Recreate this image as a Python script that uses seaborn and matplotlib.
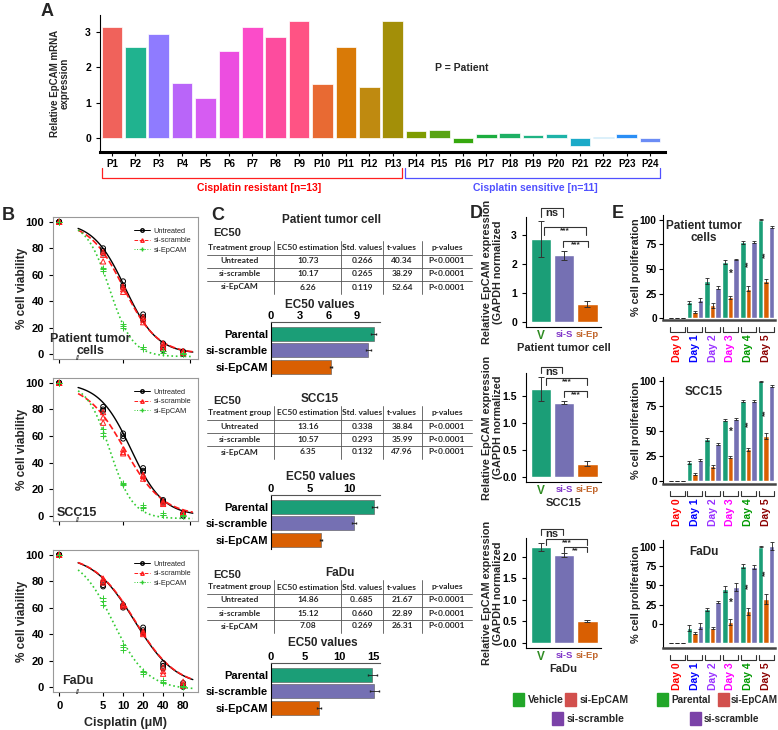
import numpy as np
import pandas as pd
import matplotlib
matplotlib.use('Agg')
import matplotlib.pyplot as plt
import seaborn as sns
from matplotlib.lines import Line2D
from matplotlib.patches import Rectangle
from matplotlib.ticker import NullLocator

sns.set_style('ticks')
plt.rcParams['font.family'] = ['Liberation Sans', 'DejaVu Sans']
plt.rcParams['font.weight'] = 'bold'
plt.rcParams['axes.labelweight'] = 'bold'
plt.rcParams['axes.linewidth'] = 0.8
plt.rcParams['axes.edgecolor'] = 'black'
plt.rcParams['xtick.color'] = 'black'
plt.rcParams['ytick.color'] = 'black'
plt.rcParams['xtick.major.size'] = 3
plt.rcParams['ytick.major.size'] = 3
plt.rcParams['xtick.major.width'] = 0.8
plt.rcParams['ytick.major.width'] = 0.8

# ---------------- data ----------------
# A - relative EpCAM mRNA per patient
patients = ['P1', 'P2', 'P3', 'P4', 'P5', 'P6', 'P7', 'P8', 'P9', 'P10', 'P11', 'P12',
            'P13', 'P14', 'P15', 'P16', 'P17', 'P18', 'P19', 'P20', 'P21', 'P22', 'P23', 'P24']
epcam_mrna = [3.15, 2.58, 2.95, 1.55, 1.13, 2.47, 3.13, 2.85, 3.32, 1.52, 2.58, 1.45,
              3.30, 0.20, 0.23, -0.15, 0.10, 0.13, 0.08, 0.12, -0.22, 0.03, 0.10, -0.12]
patient_colors = ['#F0625B', '#20B38F', '#8F7BFF', '#B965F9', '#D65CF2', '#EC4EE0',
                  '#FB4CC9', '#FD4C9E', '#FF5384', '#E86A33', '#D97A07', '#BF8A10',
                  '#A38F08', '#7E9C00', '#58A412', '#36A80E', '#1CAD3F', '#1EB064',
                  '#1FB383', '#1EB3A8', '#1BAAC8', '#1BA0E0', '#2A8EF5', '#6B8CF5']

# B - % cell viability, three replicates per cisplatin dose (uM)
doses = [0, 5, 10, 20, 40, 80]
via_groups = ['Untreated', 'si-scramble', 'si-EpCAM']
pt_untreated = [[100, 100, 100], [80, 78, 76], [55, 52, 50], [30, 28, 26], [8, 5, 3], [2, 1, 0]]
pt_scramble = [[100, 100, 100], [77, 75, 70], [51, 49, 47], [28, 26, 24], [8, 6, 5], [2, 1, 2]]
pt_siepcam = [[100, 100, 100], [65, 64, 63], [23, 21, 20], [5, 5, 4], [2, 1, 2], [0, 1, 0]]
scc_untreated = [[100, 100, 100], [82, 80, 79], [62, 60, 58], [36, 34, 33], [12, 11, 10], [2, 1, 0]]
scc_scramble = [[100, 100, 100], [78, 74, 70], [50, 48, 47], [31, 30, 28], [11, 10, 9], [3, 2, 2]]
scc_siepcam = [[100, 100, 100], [65, 62, 60], [25, 24, 23], [8, 7, 6], [2, 1, 1], [0, 1, 0]]
fadu_untreated = [[100, 100, 100], [79, 77, 76], [62, 61, 60], [45, 43, 41], [18, 16, 14], [3, 1, 0]]
fadu_scramble = [[100, 100, 100], [82, 80, 79], [63, 62, 61], [42, 41, 40], [15, 12, 10], [4, 2, 1]]
fadu_siepcam = [[100, 100, 100], [67, 65, 62], [32, 30, 28], [12, 11, 10], [5, 4, 3], [1, 0, 1]]
# hill slopes and lower asymptotes of the fitted curves
pt_hill = [1.8, 1.7, 2.5]
scc_hill = [1.8, 1.5, 2.5]
fadu_hill = [1.4, 1.4, 1.7]
curve_floor = [0, 0, -2]

# C - EC50 tables
c_groups = ['Untreated', 'si-scramble', 'si-EpCAM']
c_bar_labels = ['Parental', 'si-scramble', 'si-EpCAM']
pt_ec50 = [10.73, 10.17, 6.26]
pt_std = ['0.266', '0.265', '0.119']
pt_t = ['40.34', '38.29', '52.64']
scc_ec50 = [13.16, 10.57, 6.35]
scc_std = ['0.338', '0.293', '0.132']
scc_t = ['38.84', '35.99', '47.96']
fadu_ec50 = [14.86, 15.12, 7.08]
fadu_std = ['0..685', '0.660', '0.269']
fadu_t = ['21.67', '22.89', '26.31']
p_vals = ['P<0.0001', 'P<0.0001', 'P<0.0001']

# D - relative EpCAM expression (GAPDH normalized)
d_labels = ['V', 'si-S', 'si-Ep']
pt_expr = [2.85, 2.30, 0.63]
pt_expr_err = [0.62, 0.15, 0.10]
scc_expr = [1.63, 1.38, 0.25]
scc_expr_err = [0.22, 0.03, 0.05]
fadu_expr = [2.23, 2.04, 0.51]
fadu_expr_err = [0.09, 0.05, 0.02]

# E - % cell proliferation per day
days = ['Day 0', 'Day 1', 'Day 2', 'Day 3', 'Day 4', 'Day 5']
e_groups = ['Parental', 'si-EpCAM', 'si-scramble']
pt_par = [0, 16, 38, 57, 77, 100]
pt_par_err = [0, 1.5, 3, 2, 1.5, 0.5]
pt_ep = [0, 6, 13, 21, 30, 38]
pt_ep_err = [0, 0.7, 2.5, 1.2, 2.5, 2]
pt_scr = [0, 18, 31, 60, 77, 93]
pt_scr_err = [0, 2, 1.2, 0.6, 1, 1.2]
scc_par = [0, 19, 42, 61, 80, 100]
scc_par_err = [0, 1.5, 1.5, 1, 1, 0.5]
scc_ep = [0, 7, 15, 24, 32, 45]
scc_ep_err = [0, 1, 1.5, 1, 1.5, 3]
scc_scr = [0, 21, 37, 62, 80, 95]
scc_scr_err = [0, 1, 1, 1, 1, 1]
fadu_par = [0, 16, 35, 56, 80, 100]
fadu_par_err = [0, 3, 2, 3, 2, 0.5]
fadu_ep = [0, 11, 16, 22, 33, 46]
fadu_ep_err = [0, 1, 1, 3, 4, 5]
fadu_scr = [0, 18, 43, 58, 79, 101]
fadu_scr_err = [0, 3, 1, 4, 2, 4]

DARK2 = ['#1B9E77', '#7570B3', '#D95F02']   # parental / scramble / EpCAM
E_COLORS = ['#1B9E77', '#D95F02', '#7570B3']
DAY_COLORS = ['#FF0000', '#0000FF', '#9933FF', '#FF00FF', '#009900', '#8B0000']

# ---------------- figure helpers ----------------
W, H = 778, 730
fig = plt.figure(figsize=(W / 100, H / 100), dpi=100)


def px_axes(x0, y0, x1, y1):
    return fig.add_axes([x0 / W, 1 - y1 / H, (x1 - x0) / W, (y1 - y0) / H])


def ftext(x, y, s, **kw):
    kw.setdefault('ha', 'center')
    kw.setdefault('va', 'center')
    fig.text(x / W, 1 - y / H, s, **kw)


def fline(xs, ys, **kw):
    fig.add_artist(Line2D([x / W for x in xs], [1 - y / H for y in ys],
                          transform=fig.transFigure, **kw))


def frect(x, y, w, h, color):
    fig.add_artist(Rectangle((x / W, 1 - (y + h) / H), w / W, h / H,
                             transform=fig.transFigure, color=color))


# ---------------- A ----------------
axA = px_axes(100, 15, 665, 152)
sns.barplot(x=patients, y=epcam_mrna, hue=patients, palette=patient_colors, legend=False,
            width=0.88, saturation=1, edgecolor='white', linewidth=0.5, ax=axA)
axA.set_xlim(-0.51, 23.64)
axA.set_ylim(-0.4, 3.48)
axA.set_yticks([0, 1, 2, 3])
sns.despine(ax=axA)
axA.spines['bottom'].set_linewidth(2.2)
axA.tick_params(axis='x', labelsize=7, pad=2)
axA.tick_params(axis='y', labelsize=7.5)
axA.set_xlabel('')
axA.set_ylabel('Relative EpCAM mRNA\nexpression', fontsize=7, linespacing=1.0)
axA.yaxis.set_label_coords(-30 / 565, 0.5)
ftext(462, 68, 'P = Patient', fontsize=7.5)
fline([102, 102, 402, 402], [168, 178, 178, 168], color='#FF2020', lw=0.9)
fline([405, 405, 660, 660], [168, 178, 178, 168], color='#5050FF', lw=0.9)
ftext(259, 188, 'Cisplatin resistant [n=13]', fontsize=7.5, color='#FF0000')
ftext(535, 188, 'Cisplatin sensitive [n=11]', fontsize=7.5, color='#5050FF')
ftext(47, 11, 'A', fontsize=13)

# ---------------- B ----------------
ZERO_POS = 1.09


def viability_panel(y0, y1, reps, ec50s, hills, bottom_axis):
    ax = px_axes(53, y0, 198, y1)
    ax.set_xscale('log', base=2)
    styles = [dict(color='black', ls='-', marker='o', fc='none', s=12),
              dict(color='#FF1A1A', ls='--', marker='^', fc='none', s=14),
              dict(color='#33CC33', ls=':', marker='+', fc='#33CC33', s=24)]
    for g, (rep, ec, h, st, fl) in enumerate(zip(reps, ec50s, hills, styles, curve_floor)):
        xs = np.geomspace(2.1, 112, 120)
        ys = fl + (100 - fl) / (1 + (xs / ec) ** h)
        sns.lineplot(x=xs, y=ys, color=st['color'], linestyle=st['ls'],
                     lw=1.0 if g == 0 else 1.2, ax=ax)
        px = [ZERO_POS if d == 0 else d for d, r in zip(doses, rep) for _ in r]
        py = [v for r in rep for v in r]
        sns.scatterplot(x=px, y=py, marker=st['marker'], s=st['s'], facecolor=st['fc'],
                        edgecolor=st['color'], linewidth=0.7, ax=ax, zorder=3)
    ax.set_xlim(0.88, 134)
    ax.set_ylim(-3.8, 103.6)
    ax.set_yticks([0, 20, 40, 60, 80, 100])
    ax.xaxis.set_minor_locator(NullLocator())
    if bottom_axis:
        ax.set_xticks([ZERO_POS, 5, 10, 20, 40, 80])
        ax.set_xticklabels(['0', '5', '10', '20', '40', '80'])
        ax.set_xlabel('Cisplatin (\u03bcM)', fontsize=9, labelpad=4)
    else:
        ax.set_xticks([ZERO_POS, 10, 100])
        ax.set_xticklabels([])
    ax.tick_params(labelsize=8)
    for sp in ax.spines.values():
        sp.set_color('#999999')
    ax.text(2.1, 0, '//', transform=ax.get_xaxis_transform(), ha='center', va='center',
            fontsize=5, color='#444444')
    ax.set_ylabel('% cell viability', fontsize=8.5)
    ax.yaxis.set_label_coords(-25 / 145, 0.5)
    handles = [Line2D([0], [0], color='black', lw=0.7, marker='o', mfc='none', ms=2.5),
               Line2D([0], [0], color='#FF1A1A', lw=0.7, ls='--', marker='^', mfc='none', ms=2.5),
               Line2D([0], [0], color='#33CC33', lw=0.7, ls=':', marker='+', ms=3)]
    leg = ax.legend(handles, via_groups, loc='upper right', frameon=False, fontsize=5.3,
                    handlelength=2.2, handletextpad=0.5, labelspacing=0.3,
                    bbox_to_anchor=(1.0, 0.97))
    for t in leg.get_texts():
        t.set_fontweight('normal')
    return ax


viability_panel(217, 359, [pt_untreated, pt_scramble, pt_siepcam], pt_ec50, pt_hill, False)
viability_panel(378, 521, [scc_untreated, scc_scramble, scc_siepcam], scc_ec50, scc_hill, False)
viability_panel(550, 692, [fadu_untreated, fadu_scramble, fadu_siepcam], fadu_ec50, fadu_hill, True)
ftext(90, 345, 'Patient tumor\ncells', fontsize=9, linespacing=1.0)
ftext(57, 513, 'SCC15', fontsize=9, ha='left')
ftext(62, 681, 'FaDu', fontsize=9, ha='left')
ftext(8, 216, 'B', fontsize=13)

# ---------------- C ----------------
col_x = [240, 308, 362, 402, 447]
col_sep = [274, 341, 383, 422]
headers = ['Treatment group', 'EC50 estimation', 'Std. values', 't-values', 'p-values']
TFONT = ['Lato', 'Liberation Sans']


def ec50_table(hy, est, std, tv):
    for x, s in zip(col_x, headers):
        ftext(x, hy, s, fontsize=6, family=TFONT)
    for i in range(3):
        ry = hy + 13 * (i + 1)
        row = [c_groups[i], '%.2f' % est[i], std[i], tv[i], p_vals[i]]
        for x, s in zip(col_x, row):
            ftext(x, ry, s, fontsize=6, family=TFONT)
    for k in range(3):
        yy = hy + 6.5 + 13 * k
        fline([207, 472], [yy, yy], color='#555555', lw=0.6)
    for x in col_sep:
        fline([x, x], [hy - 7, hy + 46], color='#555555', lw=0.6)


def ec50_bars(y0, y1, est, std, xmax, ticks):
    ax = px_axes(271, y0, 380, y1)
    sns.barplot(x=est, y=c_bar_labels, hue=c_bar_labels, palette=DARK2, orient='h',
                width=0.84, saturation=1, legend=False, edgecolor='#555555', linewidth=0.4,
                ax=ax)
    errs = [float(s.replace('..', '.')) for s in std]
    ax.errorbar(est, [0, 1, 2], xerr=errs, fmt='none', ecolor='#222222', elinewidth=0.6,
                capsize=1)
    ax.set_xlim(0, xmax)
    ax.set_ylim(2.55, -0.7)
    ax.set_xticks(ticks)
    ax.xaxis.tick_top()
    ax.tick_params(axis='x', length=0, pad=1, labelsize=8)
    ax.tick_params(axis='y', length=0, pad=2, labelsize=8)
    ax.spines['right'].set_visible(False)
    ax.spines['bottom'].set_visible(False)
    ax.spines['top'].set_color('#555555')
    ax.set_xlabel('')
    ax.set_ylabel('')


ftext(218, 215, 'C', fontsize=13)
ftext(332, 220, 'Patient tumor cell', fontsize=8.5)
ftext(213, 233, 'EC50', fontsize=8, ha='left')
ec50_table(248, pt_ec50, pt_std, pt_t)
ftext(320, 305, 'EC50 values', fontsize=8.5)
ec50_bars(322, 376, pt_ec50, pt_std, 11.4, [0, 3, 6, 9])

ftext(320, 399, 'SCC15', fontsize=8.5)
ftext(213, 401, 'EC50', fontsize=8, ha='left')
ec50_table(413, scc_ec50, scc_std, scc_t)
ftext(321, 477, 'EC50 values', fontsize=8.5)
ec50_bars(495, 549, scc_ec50, scc_std, 13.9, [0, 5, 10])

ftext(340, 573, 'FaDu', fontsize=8.5)
ftext(213, 575, 'EC50', fontsize=8, ha='left')
ec50_table(587, fadu_ec50, fadu_std, fadu_t)
ftext(323, 643, 'EC50 values', fontsize=8.5)
ec50_bars(663, 717, fadu_ec50, fadu_std, 16, [0, 5, 10, 15])

# ---------------- D ----------------
D_TICK_COLORS = ['#2E8B22', '#8034C8', '#C1652B']


def expr_panel(y0, y1, vals, errs, ylim, yticks, ytl, xlabel, brackets):
    ax = px_axes(526, y0, 601, y1)
    sns.barplot(x=d_labels, y=vals, hue=d_labels, palette=DARK2, width=0.9, saturation=1,
                legend=False, ax=ax)
    ax.errorbar([0, 1, 2], vals, yerr=errs, fmt='none', ecolor='#333333', elinewidth=0.7,
                capsize=2, capthick=0.7)
    ax.set_xlim(-0.65, 2.6)
    ax.set_ylim(*ylim)
    ax.set_yticks(yticks)
    ax.set_yticklabels(ytl)
    sns.despine(ax=ax)
    ax.tick_params(axis='x', length=0, labelsize=6.8, pad=2)
    ax.tick_params(axis='y', labelsize=7.5)
    for lab, c in zip(ax.get_xticklabels(), D_TICK_COLORS):
        lab.set_color(c)
    ax.get_xticklabels()[0].set_fontsize(8.5)
    ax.set_xlabel(xlabel, fontsize=8, labelpad=1)
    ax.set_ylabel('Relative EpCAM expression\n(GAPDH normalized', fontsize=7.8, linespacing=1.05)
    ax.yaxis.set_label_coords(-0.31, 0.5)
    for x1, x2, yt, yb, lab in brackets:
        ax.plot([x1, x1, x2, x2], [yb, yt, yt, yb], color='#333333', lw=0.8, clip_on=False)
        fs = 8 if lab == 'ns' else 6
        ax.text((x1 + x2) / 2, yt, lab, ha='center', va='top', fontsize=fs)
    return ax


expr_panel(217, 327, pt_expr, pt_expr_err, (-0.17, 3.62), [0, 1, 2, 3], ['0', '1', '2', '3'],
           'Patient tumor cell',
           [(0, 0.95, 3.92, 3.62, 'ns'), (0.13, 1.96, 3.28, 3.0, '***'),
            (0.96, 2.04, 2.79, 2.59, '***')])
expr_panel(373, 482, scc_expr, scc_expr_err, (-0.09, 1.93), [0, 0.5, 1, 1.5],
           ['0.0', '0.5', '1.0', '1.5'], 'SCC15',
           [(0, 0.9, 2.05, 1.93, 'ns'), (0.2, 2.0, 1.83, 1.70, '***'),
            (1.0, 2.0, 1.59, 1.48, '***')])
expr_panel(538, 648, fadu_expr, fadu_expr_err, (-0.12, 2.44), [0, 0.5, 1, 1.5, 2],
           ['0.0', '0.5', '1.0', '1.5', '2.0'], 'FaDu',
           [(0, 0.95, 2.64, 2.51, 'ns'), (0.2, 2.0, 2.42, 2.28, '***'),
            (1.0, 2.0, 2.23, 2.12, '**')])
ftext(476, 214, 'D', fontsize=13)
frect(513, 693, 11, 13, '#22A629')
ftext(528, 700, 'Vehicle', fontsize=7.5, ha='left')
frect(565, 693, 11, 13, '#D2504D')
ftext(580, 700, 'si-EpCAM', fontsize=7.5, ha='left')
frect(552, 712, 11, 13, '#7B42A8')
ftext(567, 719, 'si-scramble', fontsize=7.5, ha='left')

# ---------------- E ----------------


def prolif_panel(y0, y1, series, errs, ylim, yticks, ytl, name, name_y, stars):
    ax = px_axes(663, y0, 775, y1)
    df = pd.DataFrame({'day': days * 3,
                       'group': [g for g in e_groups for _ in days],
                       'value': [v for s in series for v in s]})
    sns.barplot(data=df, x='day', y='value', hue='group', hue_order=e_groups, palette=E_COLORS,
                width=0.94, saturation=1, errorbar=None, legend=False, ax=ax)
    for cont, err in zip(list(ax.containers), errs):
        xs = [b.get_x() + b.get_width() / 2 for b in cont]
        hs = [b.get_height() for b in cont]
        ax.errorbar(xs, hs, yerr=err, fmt='none', ecolor='#222222', elinewidth=0.6,
                    capsize=1.2, capthick=0.6)
    ax.set_xlim(-0.79, 5.5)
    ax.set_ylim(*ylim)
    ax.set_yticks(yticks)
    ax.set_yticklabels(ytl)
    sns.despine(ax=ax)
    ax.spines['bottom'].set_linewidth(1.8)
    ax.spines['bottom'].set_color('#444444')
    ax.tick_params(axis='x', length=0, labelsize=7.5, pad=10, rotation=90)
    ax.tick_params(axis='y', labelsize=7.3, pad=1.5)
    for lab, c in zip(ax.get_xticklabels(), DAY_COLORS):
        lab.set_color(c)
    ax.set_xlabel('')
    ax.set_ylabel('% cell proliferation', fontsize=7.8)
    ax.yaxis.set_label_coords(-0.2, 0.5)
    hpx = y1 - y0
    tr = ax.get_xaxis_transform()
    for i in range(len(days)):
        ax.plot([i - 0.42, i - 0.42, i + 0.42, i + 0.42],
                [-7 / hpx, -12 / hpx, -12 / hpx, -7 / hpx],
                transform=tr, clip_on=False, color='#333333', lw=0.8)
    ax.text(3, stars[0], '*', ha='center', va='center', fontsize=7)
    ax.text(4, stars[1], '**', ha='center', va='center', fontsize=6, rotation=90)
    ax.text(5, stars[2], '**', ha='center', va='center', fontsize=6, rotation=90)
    ftext(704, name_y, name, fontsize=8.5, linespacing=1.0)
    return ax


prolif_panel(215, 320, [pt_par, pt_ep, pt_scr], [pt_par_err, pt_ep_err, pt_scr_err],
             (-2, 105), [0, 25, 50, 75, 100], ['0', '25', '50', '75', '100'],
             'Patient tumor\ncells', 232, [45, 55, 65])
prolif_panel(377, 484, [scc_par, scc_ep, scc_scr], [scc_par_err, scc_ep_err, scc_scr_err],
             (-3, 104), [0, 25, 50, 75, 100], ['0', '25', '50', '75', '100'],
             'SCC15', 392, [49, 57, 68])
prolif_panel(540, 648, [fadu_par, fadu_ep, fadu_scr], [fadu_par_err, fadu_ep_err, fadu_scr_err],
             (-5, 107), [20, 40, 60, 80, 100], ['0', '25', '50', '75', '100'],
             'FaDu', 552, [42, 60, 73])
ftext(618, 214, 'E', fontsize=13)
frect(657, 693, 11, 13, '#22A629')
ftext(671, 700, 'Parental', fontsize=7.2, ha='left')
frect(718, 693, 11, 13, '#D2504D')
ftext(731, 700, 'si-EpCAM', fontsize=7.2, ha='left')
frect(690, 712, 11, 13, '#7B42A8')
ftext(704, 719, 'si-scramble', fontsize=7.2, ha='left')

fig.savefig('out.png', dpi=100)
